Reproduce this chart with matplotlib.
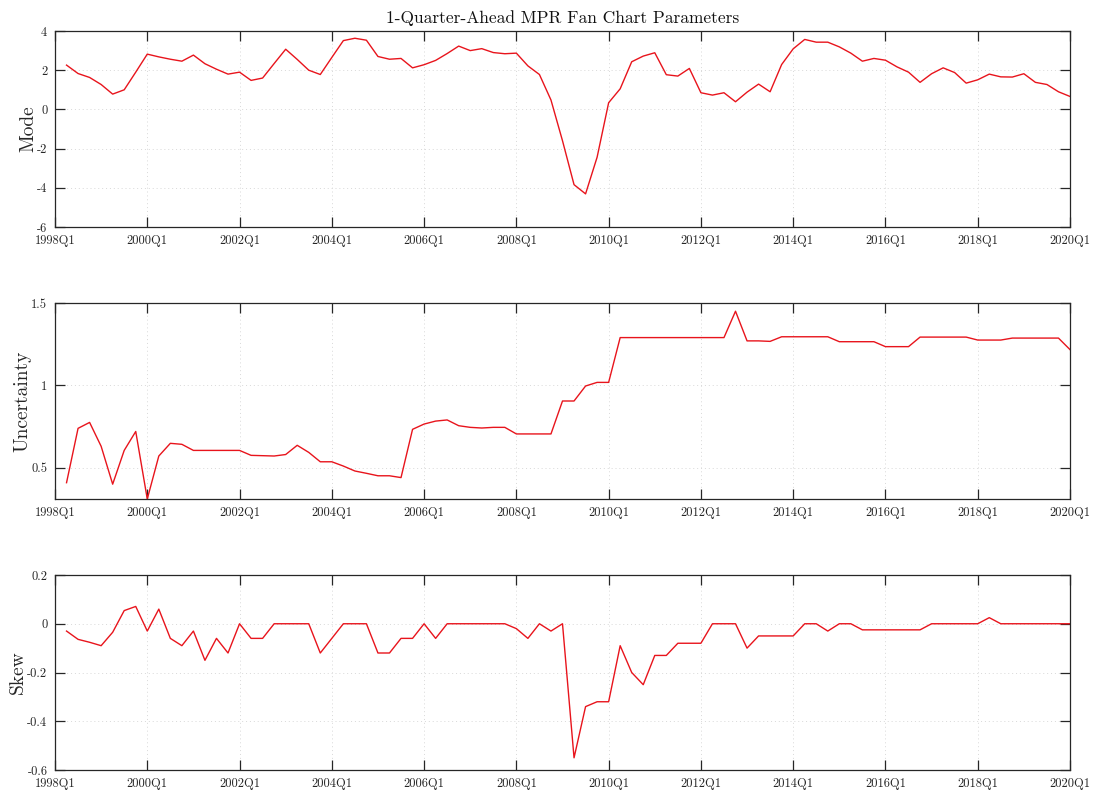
import matplotlib
matplotlib.use("Agg")
import matplotlib.pyplot as plt
import numpy as np

plt.rcParams['font.family'] = 'serif'
plt.rcParams['font.serif'] = ['cmr10', 'DejaVu Serif']
plt.rcParams['mathtext.fontset'] = 'cm'
plt.rcParams['axes.unicode_minus'] = False
plt.rcParams['axes.formatter.use_mathtext'] = True

# Quarters 1998Q2 .. 2020Q1
start_year, start_q = 1998, 2
n = 88

mode = [2.26, 1.83, 1.63, 1.27, 0.78, 1.00, 1.90, 2.82, 2.68, 2.56, 2.46, 2.77,
        2.33, 2.05, 1.80, 1.90, 1.48, 1.60, 2.34, 3.07, 2.55, 2.00, 1.78, 2.65,
        3.51, 3.63, 3.53, 2.70, 2.56, 2.60, 2.12, 2.28, 2.50, 2.85, 3.23, 3.00,
        3.10, 2.90, 2.84, 2.87, 2.22, 1.78, 0.48, -1.60, -3.84, -4.31, -2.44, 0.34,
        1.05, 2.43, 2.72, 2.89, 1.77, 1.70, 2.09, 0.85, 0.73, 0.85, 0.39, 0.88,
        1.29, 0.90, 2.29, 3.09, 3.57, 3.43, 3.43, 3.19, 2.87, 2.46, 2.60, 2.51,
        2.17, 1.90, 1.38, 1.82, 2.12, 1.88, 1.34, 1.51, 1.80, 1.66, 1.65, 1.82,
        1.38, 1.27, 0.90, 0.66]

uncertainty = [0.409, 0.739, 0.775, 0.630, 0.400, 0.605, 0.720, 0.310, 0.571, 0.648, 0.642, 0.605,
               0.605, 0.605, 0.605, 0.605, 0.575, 0.573, 0.571, 0.580, 0.636, 0.593, 0.536, 0.536,
               0.510, 0.480, 0.466, 0.451, 0.451, 0.440, 0.733, 0.765, 0.783, 0.790, 0.755, 0.745,
               0.741, 0.745, 0.745, 0.705, 0.705, 0.705, 0.705, 0.905, 0.905, 0.996, 1.018, 1.018,
               1.290, 1.290, 1.290, 1.290, 1.290, 1.290, 1.290, 1.290, 1.290, 1.290, 1.450, 1.270,
               1.270, 1.267, 1.295, 1.295, 1.295, 1.295, 1.295, 1.265, 1.265, 1.265, 1.265, 1.235,
               1.235, 1.235, 1.293, 1.293, 1.293, 1.293, 1.293, 1.275, 1.275, 1.275, 1.287, 1.287,
               1.287, 1.287, 1.287, 1.217]

skew = [-0.03, -0.064, -0.076, -0.09, -0.035, 0.054, 0.071, -0.03, 0.06, -0.06, -0.09, -0.03,
        -0.15, -0.06, -0.12, 0.0, -0.06, -0.06, 0.0, 0.0, 0.0, 0.0, -0.12, -0.06,
        0.0, 0.0, 0.0, -0.12, -0.12, -0.06, -0.06, 0.0, -0.06, 0.0, 0.0, 0.0,
        0.0, 0.0, 0.0, -0.02, -0.06, 0.0, -0.03, 0.0, -0.55, -0.34, -0.32, -0.32,
        -0.09, -0.20, -0.25, -0.13, -0.13, -0.08, -0.08, -0.08, 0.0, 0.0, 0.0, -0.10,
        -0.05, -0.05, -0.05, -0.05, 0.0, 0.0, -0.03, 0.0, 0.0, -0.025, -0.025, -0.025,
        -0.025, -0.025, -0.025, 0.0, 0.0, 0.0, 0.0, 0.0, 0.025, 0.0, 0.0, 0.0,
        0.0, 0.0, 0.0, 0.0]

tick_labels = ['1998Q1', '2000Q1', '2002Q1', '2004Q1', '2006Q1', '2008Q1',
               '2010Q1', '2012Q1', '2014Q1', '2016Q1', '2018Q1', '2020Q1']

# x as quarter index counting from 1998Q1 = 0
x = np.arange(n) + (start_q - 1)
tick_pos = np.arange(0, 89, 8)

panels = [
    ('Mode', mode, (-6, 4), [-6, -4, -2, 0, 2, 4], ['-6', '-4', '-2', '0', '2', '4']),
    ('Uncertainty', uncertainty, (0.31, 1.5), [0.5, 1.0, 1.5], ['0.5', '1', '1.5']),
    ('Skew', skew, (-0.6, 0.2), [-0.6, -0.4, -0.2, 0, 0.2], ['-0.6', '-0.4', '-0.2', '0', '0.2']),
]

fig = plt.figure(figsize=(10.96, 7.94), dpi=100)
left = 55 / 1096
width = (1070 - 55) / 1096
boxes = [(31, 227), (303, 499), (575, 770)]
line_color = '#e8141c'
axis_color = '#262626'

for (label, vals, ylim, yt, ytl), (top, bot) in zip(panels, boxes):
    ax = fig.add_axes([left, 1 - bot / 794, width, (bot - top) / 794])
    ax.plot(x, vals, color=line_color, lw=1.0)
    ax.set_xlim(0, 88)
    ax.set_ylim(*ylim)
    ax.set_xticks(tick_pos)
    ax.set_xticklabels(tick_labels)
    ax.set_yticks(yt)
    ax.set_yticklabels(ytl)
    ax.grid(True, linestyle=(0, (1, 3)), color='#d8d8d8', lw=0.7)
    ax.tick_params(direction='in', length=7.5, width=0.9, top=True, right=True,
                   labelsize=9, colors=axis_color)
    ax.tick_params(axis='x', pad=6)
    ax.tick_params(axis='y', pad=5.5)
    for s in ax.spines.values():
        s.set_color(axis_color)
        s.set_linewidth(0.9)
    ax.set_ylabel(label, fontsize=14, color=axis_color, labelpad=0)
    if label == 'Mode':
        ax.set_title('1-Quarter-Ahead MPR Fan Chart Parameters', fontsize=12.5,
                     color='#111111', pad=6)

fig.savefig('out.png', dpi=100)
